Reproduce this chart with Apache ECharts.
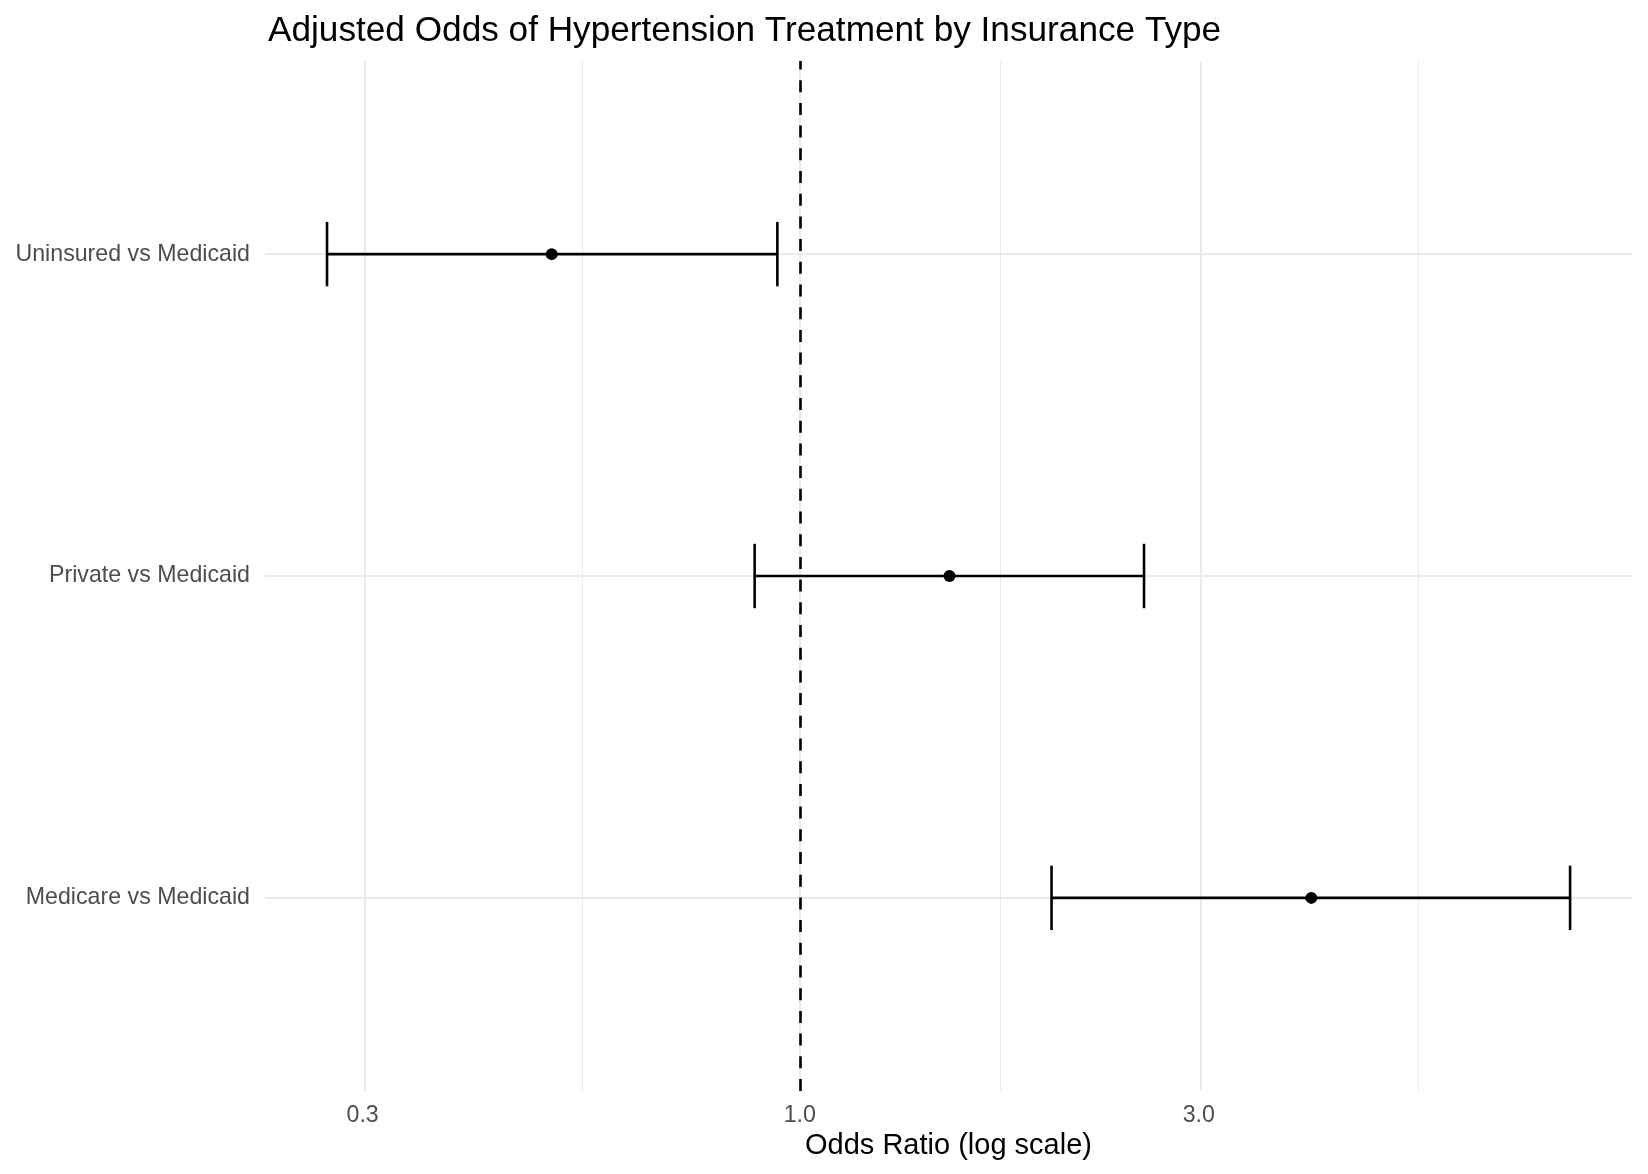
<!DOCTYPE html>
<html>
<head>
<meta charset="utf-8">
<script src="https://cdn.jsdelivr.net/npm/echarts@6/dist/echarts.min.js"></script>
<style>
html,body{margin:0;padding:0;background:#fff;}
#chart{width:1648px;height:1174px;}
</style>
</head>
<body>
<div id="chart"></div>
<script>
// Data
const categories = ["Medicare vs Medicaid", "Private vs Medicaid", "Uninsured vs Medicaid"];
const oddsRatio = [4.09, 1.51, 0.505];
const ciLower = [2.00, 0.883, 0.272];
const ciUpper = [8.34, 2.58, 0.940];
const majorTicks = [0.3, 1.0, 3.0];
const minorTicks = [0.5477, 1.7321, 5.4772];
const referenceOR = 1.0;
const xMinOR = 0.2293, xMaxOR = 9.89;

const L = v => Math.log10(v);
const FONT = '"Liberation Sans", Arial, Helvetica, sans-serif';

const pointData = categories.map((c, i) => [L(oddsRatio[i]), i + 1]);
const barData = categories.map((c, i) => [L(ciLower[i]), L(ciUpper[i]), i + 1]);

const gridLines = [];
majorTicks.forEach(v => gridLines.push({xAxis: L(v), lineStyle: {color: '#EBEBEB', width: 2, type: 'solid'}}));
minorTicks.forEach(v => gridLines.push({xAxis: L(v), lineStyle: {color: '#EBEBEB', width: 1, type: 'solid'}}));
categories.forEach((c, i) => gridLines.push({yAxis: i + 1, lineStyle: {color: '#EBEBEB', width: 2, type: 'solid'}}));

const chart = echarts.init(document.getElementById('chart'), null, {renderer: 'canvas'});
chart.setOption({
  animation: false,
  backgroundColor: '#ffffff',
  title: {
    text: 'Adjusted Odds of Hypertension Treatment by Insurance Type',
    left: 263, top: 9,
    textStyle: {fontFamily: FONT, fontSize: 35.2, fontWeight: 'normal', color: '#000000'}
  },
  grid: {left: 265, right: 16, top: 61, bottom: 83, containLabel: false},
  xAxis: {
    type: 'value',
    min: L(xMinOR), max: L(xMaxOR),
    axisLine: {show: false}, axisTick: {show: false}, splitLine: {show: false},
    axisLabel: {
      customValues: majorTicks.map(L),
      formatter: v => Math.pow(10, v).toFixed(1),
      fontFamily: FONT, fontSize: 23.2, color: '#4D4D4D', margin: 13
    },
    name: 'Odds Ratio (log scale)',
    nameLocation: 'middle', nameGap: 38,
    nameTextStyle: {fontFamily: FONT, fontSize: 29, color: '#000000'}
  },
  yAxis: {
    type: 'value',
    min: 0.4, max: 3.6,
    axisLine: {show: false}, axisTick: {show: false}, splitLine: {show: false},
    axisLabel: {
      customValues: [1, 2, 3],
      formatter: v => categories[Math.round(v) - 1] || '',
      fontFamily: FONT, fontSize: 23.2, color: '#4D4D4D', margin: 15
    }
  },
  series: [
    {
      type: 'line', data: [], z: 0, silent: true,
      markLine: {silent: true, z: 1, symbol: ['none', 'none'], label: {show: false}, animation: false, data: gridLines}
    },
    {
      type: 'line', data: [], z: 1, silent: true,
      markLine: {silent: true, z: 2, symbol: ['none', 'none'], label: {show: false}, animation: false,
        data: [{xAxis: L(referenceOR), lineStyle: {color: '#000000', width: 2.6, type: [12, 10.7], dashOffset: 0}}]}
    },
    {
      type: 'custom', z: 10,
      data: barData,
      renderItem: function (params, api) {
        const lo = api.value(0), hi = api.value(1), y = api.value(2);
        const pL = api.coord([lo, y]);
        const pH = api.coord([hi, y]);
        const capT = api.coord([lo, y + 0.1])[1];
        const capB = api.coord([lo, y - 0.1])[1];
        const style = {stroke: '#000000', lineWidth: 2.6};
        return {
          type: 'group',
          children: [
            {type: 'line', shape: {x1: pL[0], y1: pL[1], x2: pH[0], y2: pH[1]}, style: style},
            {type: 'line', shape: {x1: pL[0], y1: capT, x2: pL[0], y2: capB}, style: style},
            {type: 'line', shape: {x1: pH[0], y1: capT, x2: pH[0], y2: capB}, style: style}
          ]
        };
      }
    },
    {
      type: 'scatter', z: 11,
      data: pointData,
      symbol: 'circle', symbolSize: 12,
      itemStyle: {color: '#000000', opacity: 1},
      emphasis: {disabled: true}
    }
  ]
});
</script>
</body>
</html>
